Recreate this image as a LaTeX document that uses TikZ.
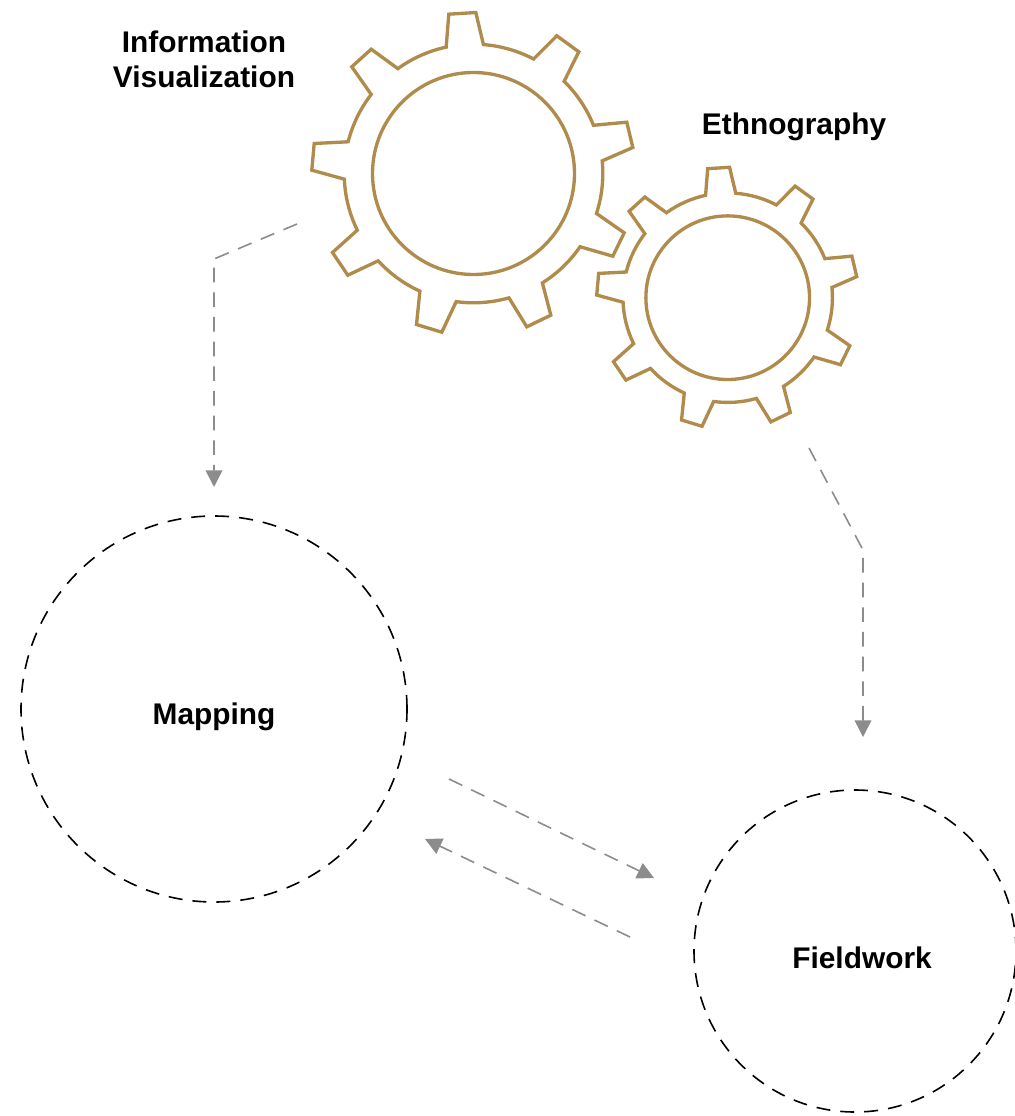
\documentclass[tikz,border=0pt]{standalone}
\usepackage{fontspec}
\setmainfont{Liberation Sans}
\usetikzlibrary{arrows.meta}

\definecolor{gearbrown}{RGB}{176,139,75}
\definecolor{flowgray}{RGB}{140,140,140}

\tikzset{
  gearline/.style={draw=gearbrown,line width=2.5pt,line join=miter},
  flow/.style={draw=flowgray,line width=1.2pt,dash pattern=on 11pt off 7.5pt,-{Triangle[length=12.5pt,width=12.5pt]}},
  phase/.style={circle,draw=black,line width=1.2pt,dash pattern=on 10.5pt off 7.5pt,inner sep=0pt,outer sep=0pt},
  title/.style={font=\bfseries\fontsize{22.4}{26.25}\selectfont,align=center,inner sep=0pt},
  gear/.pic={
    \draw[gearline] (-102.2:129.3) -- (-24.7,-159.3) -- (2.3,-161) -- (-85.6:129.3)
      arc[start angle=-85.6,end angle=-62.3,radius=129.3] -- (83.3,-137.7) -- (105.3,-121.7) -- (-45.5:129.3)
      arc[start angle=-45.5,end angle=-21.9,radius=129.3] -- (153.3,-51.3) -- (159.3,-26) -- (-5.6:129.3)
      arc[start angle=-5.6,end angle=18,radius=129.3] -- (150.7,59.3) -- (139.3,82.7) -- (34.5:129.3)
      arc[start angle=34.5,end angle=57.8,radius=129.3] -- (77.3,141.7) -- (53.3,153.3) -- (74.1:129.3)
      arc[start angle=74.1,end angle=97.7,radius=129.3] -- (-31.7,158.7) -- (-57,151) -- (114.5:129.3)
      arc[start angle=114.5,end angle=137.5,radius=129.3] -- (-125.7,101.7) -- (-141,79) -- (154:129.3)
      arc[start angle=154,end angle=177.5,radius=129.3] -- (-161.7,-3.3) -- (-159.3,-30) -- (-165.8:129.3)
      arc[start angle=-165.8,end angle=-142.3,radius=129.3] -- (-121.7,-106.7) -- (-102.3,-124.3) -- (-125.8:129.3)
      arc[start angle=-125.8,end angle=-102.2,radius=129.3] -- cycle;
    \draw[gearline] (0,0) circle[radius=101];
  }
}

\begin{document}
\begin{tikzpicture}[x=0.75pt,y=0.75pt,yscale=-1,xscale=1]
    \useasboundingbox (0,0) rectangle (1014,1116);

    % Gears
    \pic[transform shape] at (473.5,173.5) {gear};
    \pic[transform shape,scale=0.81] at (727.7,297.7) {gear};

    % Phase circles
    \node[phase,minimum size=289.5pt] (mapping) at (214,709) {};
    \node[phase,minimum size=241.5pt] (fieldwork) at (855,951) {};

    % Text Node
    \node[title] (infovis) at (204,59.5) {Information\\Visualization};
    \node[title] (ethno) at (794,127) {Ethnography};
    \node[title] (mappingtext) at (214,717) {Mapping};
    \node[title] (fieldworktext) at (862,958) {Fieldwork};

    % Flow ends
    \coordinate (infostart) at (297,224);
    \coordinate (infobend) at (214,259);
    \coordinate (infoend) at (214,487);
    \coordinate (ethnostart) at (809,448);
    \coordinate (ethnobend) at (863,550);
    \coordinate (ethnoend) at (863,737);
    \coordinate (mapstart) at (449,779);
    \coordinate (mapend) at (654,878);
    \coordinate (fieldstart) at (630,937);
    \coordinate (fieldend) at (425,839);

    % Flows
    \draw[flow] (infostart) -- (infobend) -- (infoend);
    \draw[flow] (ethnostart) -- (ethnobend) -- (ethnoend);
    \draw[flow] (mapstart) -- (mapend);
    \draw[flow] (fieldstart) -- (fieldend);
\end{tikzpicture}
\end{document}
